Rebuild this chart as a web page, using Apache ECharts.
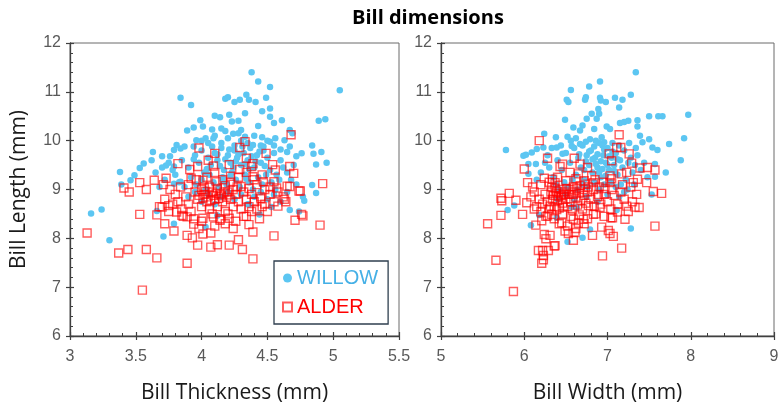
<!DOCTYPE html>
<html><head><meta charset="utf-8">
<script src="https://cdn.jsdelivr.net/npm/echarts@6/dist/echarts.min.js"></script>
<style>html,body{margin:0;padding:0;background:#fff}#c{width:781px;height:403px}</style>
</head><body><div id="c"></div>
<script>
var seriesNames = ['WILLOW', 'ALDER'];
var thickTicks = ['3','3.5','4','4.5','5','5.5'];
var widthTicks = ['5','6','7','8','9'];
var lengthTicks = ['6','7','8','9','10','11','12'];

var thickWillow = [
[4.38,11.40],[4.43,11.21],[4.52,11.10],[4.34,10.94],[5.05,11.03],[3.84,10.88],[3.92,10.73],[4.18,10.86],[4.20,10.89],[4.25,10.79],
[4.29,10.84],[4.36,10.84],[4.41,10.79],[4.49,10.88],[4.52,10.66],[4.33,10.56],[4.46,10.60],[4.52,10.49],[4.61,10.42],[4.55,10.36],
[4.89,10.41],[4.94,10.44],[4.21,10.53],[4.10,10.51],[4.14,10.48],[3.99,10.42],[3.94,10.27],[3.89,10.21],[4.01,10.29],[4.08,10.23],
[4.15,10.25],[4.23,10.39],[4.28,10.41],[4.43,10.30],[4.30,10.22],[4.24,10.14],[4.33,10.08],[4.46,10.07],[4.56,10.05],[4.67,10.22],
[4.69,10.15],[4.63,10.01],[4.52,9.98],[4.84,9.90],[4.85,9.73],[4.91,9.77],[4.87,9.51],[4.95,9.55],[4.76,9.74],[4.72,9.68],
[4.67,9.88],[4.65,9.77],[4.60,9.82],[4.47,9.88],[4.39,9.91],[4.09,10.05],[4.03,10.05],[3.96,10.01],[3.87,9.88],[3.81,9.91],
[3.79,9.81],[3.84,9.84],[3.94,9.88],[3.63,9.77],[3.70,9.68],[3.76,9.68],[3.56,9.53],[3.53,9.44],[3.49,9.29],[3.46,9.19],
[3.38,9.36],[3.39,9.10],[3.73,9.49],[3.79,9.47],[3.79,9.12],[3.84,9.16],[4.77,8.85],[4.87,8.93],[4.84,9.09],
[3.16,8.51],[3.24,8.59],[3.30,7.96],[3.71,8.04],[3.66,8.56],[4.03,8.23],[4.44,8.49],[4.36,8.70],[4.53,8.64],[4.67,8.58],
[4.74,8.55],[4.78,8.77],[3.79,8.30],[4.12,8.47],
[3.85,9.60],[3.90,9.45],[3.95,9.70],[3.98,9.55],[4.00,9.80],[4.02,9.35],[4.05,9.65],[4.07,9.50],[4.10,9.75],[4.12,9.60],
[4.15,9.85],[4.17,9.40],[4.20,9.70],[4.22,9.55],[4.25,9.80],[4.27,9.65],[4.30,9.50],[4.32,9.75],[4.35,9.60],[4.37,9.85],
[4.40,9.45],[4.42,9.70],[4.45,9.55],[4.47,9.80],[4.50,9.65],[4.52,9.40],[4.55,9.75],[4.57,9.30],[4.60,9.60],[4.62,9.45],
[4.65,9.35],[4.68,9.20],[4.70,9.50],[4.72,9.10],
[3.80,9.30],[3.83,9.15],[3.87,9.05],[3.92,9.25],[3.96,9.10],[4.00,9.20],[4.03,9.00],[4.06,9.30],[4.09,9.15],[4.13,9.05],
[4.16,9.25],[4.19,9.10],[4.23,9.35],[4.26,9.20],[4.29,9.05],[4.33,9.30],[4.36,9.15],[4.39,9.00],[4.43,9.25],[4.46,9.10],
[4.49,9.30],[4.53,9.15],[4.56,9.00],[4.59,9.20],
[3.90,8.85],[3.95,8.95],[4.00,8.75],[4.05,8.90],[4.10,8.70],[4.15,8.85],[4.20,8.95],[4.25,8.80],[4.30,8.90],[4.35,8.70],
[4.40,8.85],[4.45,8.95],[4.50,8.80],[4.55,8.90],[4.60,8.75],[4.65,8.95],
[4.00,10.00],[4.05,9.95],[4.10,10.10],[4.15,9.95],[4.20,10.05],[4.25,9.90],[4.30,10.00],[4.35,9.95],[4.40,10.10],[4.45,9.90],
[4.50,10.00],[4.55,9.90],[4.18,10.20],[4.28,10.15],
[3.75,9.55],[3.78,9.40],[3.70,9.45],[3.65,9.35],[3.72,9.20],[3.68,9.05],[3.62,9.60],
[4.18,9.62],[4.28,9.72],[4.33,9.52],[4.24,9.45],[4.38,9.68],[4.14,9.48],[4.41,9.58],[4.21,9.82],[4.31,9.88],[4.26,9.58],
[4.36,9.42],[4.12,9.72],[4.08,9.88],[4.44,9.78],[4.48,9.48],[4.04,9.42],[3.94,9.62],[4.22,9.28],[4.34,9.22],[4.16,9.18]
];

var thickAlder = [
[4.68,10.12],[4.33,9.98],[4.29,9.86],[3.98,9.85],[4.10,9.74],[4.49,9.74],[4.34,9.64],[4.39,9.53],[3.82,9.53],[3.91,9.41],
[3.97,9.47],[4.05,9.60],[4.09,9.48],[4.21,9.51],[4.29,9.41],[4.38,9.47],[4.54,9.51],[4.56,9.40],[4.70,9.33],[4.67,9.47],
[4.39,9.26],[4.22,9.27],[4.01,9.19],[3.92,9.23],[3.73,9.23],[3.64,9.19],[3.53,9.14],[3.58,9.00],[3.71,9.10],[3.41,9.03],
[3.45,8.95],[4.02,9.05],[4.11,9.16],[4.27,9.05],[4.47,9.16],[4.55,9.16],[4.65,9.07],[4.74,8.97],[4.92,9.12],[4.57,9.03],
[3.13,8.11],[3.37,7.70],[3.44,7.77],[3.58,7.77],[3.66,7.60],[3.55,6.94],[3.53,8.49],[3.66,8.48],[3.72,8.30],[3.79,8.15],
[3.89,8.06],[3.89,7.49],[3.93,8.01],[3.97,7.86],[4.01,8.09],[4.07,7.82],[4.07,8.11],[4.12,7.87],[4.21,7.86],[4.28,7.97],
[4.31,7.77],[4.39,7.58],[4.39,8.13],[4.36,8.28],[4.24,8.20],[4.55,8.05],[4.90,8.27],[4.64,8.75],[4.58,8.66],[4.71,8.37],
[4.76,8.49],[4.77,8.46],[3.94,8.29],[4.14,8.37],[4.21,8.41],[4.34,8.45],[4.09,8.44],[4.01,8.41],[3.89,8.44],[3.81,8.54],
[3.85,8.47],[3.70,8.64],[3.75,8.67],[4.63,8.80],[4.46,8.65],[4.45,8.81],[4.75,8.97],[4.67,9.06],
[3.80,8.90],[3.82,8.75],[3.85,8.60],[3.88,8.85],[3.90,8.70],[3.92,8.55],[3.95,8.95],[3.97,8.80],[4.00,8.65],[4.02,8.90],
[4.04,8.75],[4.06,8.60],[4.08,8.95],[4.10,8.80],[4.12,8.65],[4.14,8.90],[4.16,8.75],[4.18,8.55],[4.20,8.95],[4.22,8.80],
[4.24,8.65],[4.26,8.90],[4.28,8.75],[4.30,8.60],[4.32,8.95],[4.34,8.80],[4.36,8.65],[4.38,8.90],[4.40,8.75],[4.42,8.60],
[4.45,8.85],[4.48,8.70],[4.52,8.90],[4.55,8.75],
[3.98,8.88],[4.01,8.83],[4.03,8.96],[4.05,8.85],[4.07,8.78],[4.09,8.88],[4.11,8.92],[4.13,8.82],[4.15,8.87],[4.17,8.95],
[4.19,8.84],[4.21,8.89],[4.00,9.00],[4.06,9.05],[4.12,9.02],[4.18,9.08],[4.24,9.00],[4.30,9.06],[4.36,9.02],[4.42,9.10],
[4.48,9.00],
[3.86,8.45],[3.94,8.40],[4.00,8.35],[4.08,8.50],[4.14,8.40],[4.20,8.50],[4.26,8.35],[4.32,8.45],[4.38,8.55],[4.44,8.40],
[4.50,8.55],[4.10,8.25],[4.18,8.30],[3.98,8.20],
[3.78,8.70],[3.75,8.55],[3.72,8.80],[3.68,8.65],[3.76,9.00],[3.84,9.05],[3.90,9.10],[3.96,9.20],[4.04,9.25],[4.10,9.35],
[4.16,9.20],[4.22,9.15],[4.28,9.25],[4.34,9.35],[4.40,9.20],[4.46,9.30],[4.52,9.05],[4.58,8.95],[4.62,8.85]
];

var widthWillow = [
[7.34,11.40],[6.91,11.21],[6.78,11.11],[6.56,11.04],[6.74,10.89],[6.73,10.84],[6.91,10.88],[6.92,10.82],[6.98,10.79],[7.09,10.88],
[7.18,10.84],[7.14,10.68],[7.28,10.94],[6.51,10.84],[6.53,10.79],[6.89,10.65],[6.90,10.55],[6.81,10.55],[6.75,10.45],[6.87,10.45],
[6.49,10.43],[6.70,10.31],[6.59,10.27],[6.67,10.21],[6.84,10.24],[6.99,10.29],[7.03,10.24],[7.15,10.36],[7.20,10.38],[7.25,10.41],
[7.36,10.42],[7.36,10.29],[7.50,10.50],[7.61,10.50],[7.66,10.50],[7.97,10.53],[7.92,10.05],[7.88,9.60],[7.74,9.93],[7.60,9.81],
[7.50,10.03],[7.39,10.10],[7.42,9.97],[7.54,9.86],[7.70,9.35],[7.57,9.52],[5.78,9.81],[5.99,9.69],[6.02,9.71],[6.09,9.76],
[6.15,9.83],[6.24,10.14],[6.23,9.86],[6.05,9.52],[6.14,9.52],[6.05,9.32],[6.38,10.07],[6.39,9.86],[6.46,9.73],[6.52,10.08],
[6.57,9.89],[6.67,9.93],[6.79,10.03],[6.93,10.07],[6.96,9.97],
[5.80,8.58],[5.88,8.67],[6.08,8.27],[6.18,8.48],[6.52,7.93],[6.70,8.01],[6.79,8.18],[7.28,8.20],[6.57,8.64],[6.63,8.63],
[7.11,8.58],[6.39,8.42],[7.57,9.26],[7.53,8.90],
[6.40,9.60],[6.45,9.40],[6.50,9.75],[6.55,9.55],[6.60,9.85],[6.62,9.30],[6.65,9.65],[6.68,9.45],[6.70,9.90],[6.72,9.20],
[6.75,9.70],[6.78,9.50],[6.80,9.80],[6.82,9.35],[6.85,9.65],[6.88,9.45],[6.90,9.95],[6.92,9.25],[6.95,9.70],[6.98,9.55],
[7.00,9.85],[7.02,9.40],[7.05,9.65],[7.08,9.50],[7.10,9.75],[7.12,9.30],[7.15,9.60],[7.18,9.45],[7.20,9.80],[7.22,9.20],
[7.25,9.55],[7.28,9.65],[7.30,9.35],[7.33,9.50],[7.36,9.70],[7.40,9.40],[7.44,9.55],[7.48,9.25],
[6.30,9.45],[6.35,9.25],[6.38,9.10],[6.42,9.00],[6.48,9.15],[6.52,9.05],[6.58,9.20],[6.64,9.00],[6.70,9.10],[6.76,9.05],
[6.84,9.15],[6.90,9.00],[6.96,9.10],[7.04,9.15],[7.10,9.05],[7.16,9.10],[7.24,9.00],[7.32,9.10],
[6.25,9.55],[6.20,9.35],[6.15,9.20],[6.28,9.70],[6.33,9.85],[6.44,9.90],[6.56,10.00],[6.62,10.05],[6.74,9.98],[6.86,10.00],
[6.94,9.90],[7.06,9.95],[7.14,9.90],[7.26,9.95],[7.34,9.85],
[6.82,9.62],[6.88,9.72],[6.92,9.58],[6.96,9.82],[7.02,9.68],[6.86,9.52],[6.78,9.78],[7.06,9.78],[6.94,9.42],[6.74,9.58],
[7.12,9.62],[6.66,9.72],[6.84,9.88],[7.00,9.50],[7.08,9.38],[6.90,9.35],[6.98,9.28],[6.72,9.40],
[6.50,8.90],[6.60,8.80],[6.75,8.85],[6.88,8.75],[7.00,8.90],[7.14,8.85],[7.20,8.95],[6.40,8.80]
];

var widthAlder = [
[7.14,10.12],[6.18,10.00],[7.11,9.86],[7.16,9.86],[7.02,9.73],[7.26,9.73],[6.60,9.64],[7.05,9.59],[7.29,9.54],[6.28,9.64],
[6.46,9.52],[6.43,9.47],[6.67,9.52],[6.76,9.45],[7.39,9.44],[7.48,9.45],[7.57,9.40],[6.00,9.42],[6.55,9.35],[6.65,9.32],
[6.81,9.28],[7.03,9.28],[7.17,9.32],[7.23,9.35],[6.34,9.21],[6.37,9.14],[6.24,9.23],[6.04,9.14],[6.73,9.11],[6.83,9.14],
[7.03,9.14],[7.31,9.14],[7.36,9.21],[7.47,9.14],[7.55,8.96],[7.65,8.92],[5.82,8.92],[5.90,8.78],[5.72,8.82],[6.48,8.90],
[6.59,8.90],[6.89,8.90],
[5.56,8.30],[5.72,8.47],[5.66,7.55],[5.87,6.91],[5.98,8.49],[6.14,8.27],[6.12,8.60],[6.17,7.75],[6.21,7.49],[6.23,7.65],
[6.23,7.56],[6.22,7.75],[6.29,7.75],[6.24,8.08],[6.26,7.99],[6.31,8.06],[6.36,7.84],[6.37,7.85],[6.21,8.36],[6.28,8.46],
[6.33,8.49],[6.45,8.32],[6.49,8.15],[6.53,8.10],[6.59,7.96],[6.61,8.12],[6.59,8.39],[6.65,8.31],[6.71,8.39],[6.82,8.06],
[6.93,8.23],[6.94,7.64],[7.01,8.16],[7.03,8.10],[7.07,8.04],[7.04,8.42],[7.12,8.54],[7.17,7.80],[7.21,8.39],[7.23,8.66],
[7.33,8.64],[7.38,8.63],[7.57,8.25],[6.83,8.49],[6.91,8.63],[6.77,8.67],[6.47,8.64],[6.39,8.59],[6.31,8.66],[6.03,8.73],
[5.73,8.77],
[6.25,8.90],[6.28,8.75],[6.30,8.60],[6.32,8.95],[6.34,8.80],[6.36,8.65],[6.38,8.92],[6.40,8.78],[6.42,8.62],[6.44,8.88],
[6.46,8.72],[6.48,8.95],[6.50,8.80],[6.52,8.65],[6.54,8.90],[6.56,8.75],[6.58,8.58],[6.60,8.95],[6.62,8.82],[6.64,8.68],
[6.66,8.92],[6.68,8.78],[6.70,8.60],[6.72,8.88],[6.74,8.72],[6.76,8.95],[6.80,8.80],[6.84,8.65],[6.88,8.85],[6.92,8.70],
[6.96,8.90],[7.00,8.75],[7.04,8.60],[7.08,8.88],[7.12,8.70],[7.16,8.95],[7.20,8.80],[7.25,8.55],[7.30,8.75],[7.35,8.90],
[6.35,8.88],[6.39,8.96],[6.41,8.86],[6.43,9.00],[6.45,8.84],[6.47,8.91],[6.37,9.02],[6.33,9.05],[6.51,9.02],[6.55,9.00],
[6.59,9.05],[6.63,9.02],[6.67,9.08],[6.71,9.00],[6.77,9.05],[6.83,9.00],[6.90,9.05],[6.97,9.02],[7.05,9.00],
[6.22,8.70],[6.20,8.55],[6.18,8.80],[6.15,8.65],[6.12,8.95],[6.08,8.85],[6.26,8.45],[6.36,8.40],[6.46,8.50],[6.56,8.45],
[6.66,8.48],[6.76,8.40],[6.86,8.50],[6.96,8.45],[7.06,8.42],[6.42,8.30],[6.52,8.25],[6.62,8.20],[6.72,8.30],
[6.30,9.15],[6.40,9.25],[6.50,9.18],[6.62,9.22],[6.72,9.18],[6.85,9.20],[6.95,9.15],[7.05,9.22],[7.18,9.10],[7.28,9.05],
[6.20,9.10],[6.10,9.05]
];

var blue = '#5CC6F2';
var red = '#FF0000';
var tickColor = '#404040';
var labelStyle = {color:'#595959', fontSize:16, fontFamily:'Liberation Sans'};

function mainAxis(type, grid, min, max, interval, labels, name, nameGap, margin) {
  var isX = type === 'x';
  return {
    type:'value', gridIndex:grid, min:min, max:max, interval:interval,
    position: isX ? 'bottom' : 'left',
    axisLine:{show:true, onZero:false, lineStyle:{color:tickColor, width:1.3}},
    axisTick:{show:true, inside:false, length:4, lineStyle:{color:tickColor, width:1.2}},
    minorTick:{show:false},
    splitLine:{show:false},
    axisLabel:Object.assign({margin:margin, formatter:function(v){
      for (var i=0;i<labels.length;i++){ if (Math.abs(parseFloat(labels[i])-v)<1e-6) return labels[i]; }
      return '';
    }}, labelStyle),
    name:name, nameLocation:'middle', nameGap:nameGap,
    nameTextStyle:{color:'#1a1a1a', fontSize:21, fontFamily:'Open Sans'}
  };
}
function overlayAxis(type, grid, min, max, interval) {
  return {
    type:'value', gridIndex:grid, min:min, max:max, interval:interval,
    position: type === 'x' ? 'bottom' : 'left',
    axisLine:{show:false, onZero:false},
    axisTick:{show:true, inside:true, length:4, lineStyle:{color:tickColor, width:1.2}},
    minorTick:{show:true, splitNumber:5, length:3, lineStyle:{color:tickColor, width:1}},
    splitLine:{show:false}, axisLabel:{show:false}
  };
}

var option = {
  animation:false,
  backgroundColor:'#fff',
  title:{text:'Bill dimensions', left:347, top:3,
    textStyle:{fontSize:20, fontWeight:'bold', color:'#000', fontFamily:'Open Sans'}},
  grid:[
    {left:70, right:382, top:43, bottom:67, show:true, borderColor:'#6b6b6b', borderWidth:1, containLabel:false, outerBoundsMode:'none'},
    {left:441, right:7, top:43, bottom:67, show:true, borderColor:'#6b6b6b', borderWidth:1, containLabel:false, outerBoundsMode:'none'}
  ],
  xAxis:[
    mainAxis('x',0,3,5.5,0.5,thickTicks,'Bill Thickness (mm)',47,13),
    mainAxis('x',1,5,9,1,widthTicks,'Bill Width (mm)',47,13),
    overlayAxis('x',0,3,5.5,0.5),
    overlayAxis('x',1,5,9,1)
  ],
  yAxis:[
    mainAxis('y',0,6,12,1,lengthTicks,'Bill Length (mm)',40,9),
    mainAxis('y',1,6,12,1,lengthTicks,'',40,9),
    overlayAxis('y',0,6,12,1),
    overlayAxis('y',1,6,12,1)
  ],
  legend:{
    orient:'vertical', left:274, top:261,
    padding:[7,10,7,8], itemGap:9, itemWidth:9, itemHeight:9,
    borderColor:'#2f3f4f', borderWidth:1.3, backgroundColor:'#fff',
    textStyle:{fontSize:20, fontFamily:'Liberation Sans'},
    data:[
      {name:seriesNames[0], icon:'circle', textStyle:{color:'#45B0E6'}},
      {name:seriesNames[1], icon:'rect', textStyle:{color:red}}
    ]
  },
  series:[
    {name:seriesNames[0], type:'scatter', xAxisIndex:0, yAxisIndex:0, data:thickWillow,
      symbol:'circle', symbolSize:6.5, itemStyle:{color:blue, opacity:1}},
    {name:seriesNames[0], type:'scatter', xAxisIndex:1, yAxisIndex:1, data:widthWillow,
      symbol:'circle', symbolSize:6.5, itemStyle:{color:blue, opacity:1}},
    {name:seriesNames[1], type:'scatter', xAxisIndex:0, yAxisIndex:0, data:thickAlder,
      symbol:'rect', symbolSize:8, itemStyle:{color:'rgba(255,255,255,0)', borderColor:'rgba(255,0,0,0.8)', borderWidth:1.4}},
    {name:seriesNames[1], type:'scatter', xAxisIndex:1, yAxisIndex:1, data:widthAlder,
      symbol:'rect', symbolSize:8, itemStyle:{color:'rgba(255,255,255,0)', borderColor:'rgba(255,0,0,0.8)', borderWidth:1.4}}
  ]
};
var chart = echarts.init(document.getElementById('c'), null, {renderer:'canvas'});
chart.setOption(option);
</script>
</body></html>
